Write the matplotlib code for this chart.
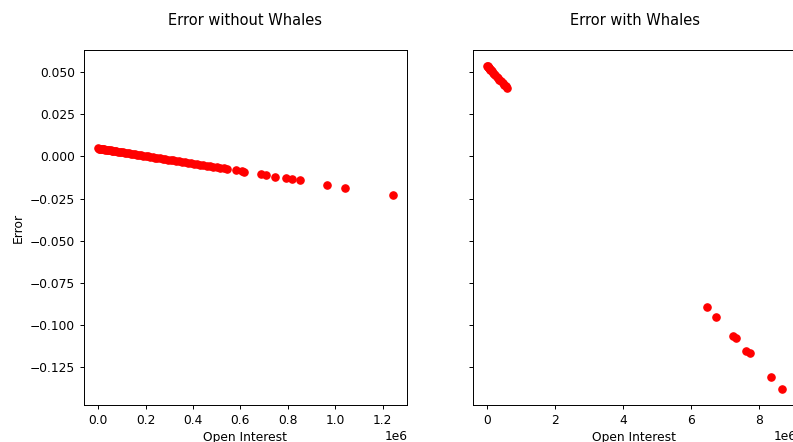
import matplotlib
matplotlib.use("Agg")
import matplotlib.pyplot as plt

# open interest (x1e6) / error without whales
oi_no_whales = [0.000, 0.004, 0.008, 0.012, 0.016, 0.020, 0.025, 0.030, 0.035, 0.040,
                0.046, 0.052, 0.058, 0.064, 0.070, 0.077, 0.084, 0.091, 0.098, 0.105,
                0.113, 0.121, 0.129, 0.137, 0.145, 0.154, 0.163, 0.172, 0.181, 0.190,
                0.200, 0.210, 0.220, 0.230, 0.240, 0.250, 0.261, 0.272, 0.283, 0.294,
                0.305, 0.317, 0.329, 0.341, 0.353, 0.365, 0.378, 0.391, 0.404, 0.417,
                0.430, 0.444, 0.458, 0.472, 0.486, 0.500, 0.515, 0.530, 0.545,
                0.583, 0.605, 0.617, 0.685, 0.710, 0.744, 0.791, 0.816, 0.850,
                0.964, 1.040, 1.243]
err_no_whales = [0.0048, 0.0047, 0.0046, 0.0045, 0.0044, 0.0044, 0.0042, 0.0041, 0.0040, 0.0039,
                 0.0038, 0.0036, 0.0035, 0.0034, 0.0032, 0.0031, 0.0029, 0.0028, 0.0026, 0.0024,
                 0.0023, 0.0021, 0.0019, 0.0017, 0.0016, 0.0014, 0.0011, 0.0009, 0.0007, 0.0005,
                 0.0003, 0.0001, -0.0001, -0.0004, -0.0006, -0.0008, -0.0010, -0.0013, -0.0015, -0.0018,
                 -0.0020, -0.0023, -0.0026, -0.0028, -0.0031, -0.0034, -0.0037, -0.0040, -0.0042, -0.0045,
                 -0.0048, -0.0051, -0.0055, -0.0058, -0.0061, -0.0064, -0.0067, -0.0071, -0.0074,
                 -0.0083, -0.0088, -0.0090, -0.0105, -0.0111, -0.0119, -0.0129, -0.0135, -0.0142,
                 -0.0168, -0.0185, -0.0230]

# open interest (x1e6) / error with whales
oi_whales = [0.00, 0.01, 0.02, 0.03, 0.04, 0.05, 0.07, 0.09, 0.11, 0.14, 0.17,
             0.20, 0.24, 0.28, 0.32, 0.36, 0.40, 0.45, 0.50, 0.54, 0.58,
             6.48, 6.73, 7.22, 7.32, 7.63, 7.73, 8.35, 8.67]
err_whales = [0.0537, 0.0535, 0.0533, 0.0530, 0.0528, 0.0526, 0.0522, 0.0517, 0.0513, 0.0506, 0.0499,
              0.0493, 0.0484, 0.0475, 0.0466, 0.0457, 0.0449, 0.0438, 0.0427, 0.0418, 0.0409,
              -0.0895, -0.0954, -0.1064, -0.1081, -0.1155, -0.1169, -0.1310, -0.1381]

oi_no_whales = [v * 1e6 for v in oi_no_whales]
oi_whales = [v * 1e6 for v in oi_whales]

W, H = 793, 442
DPI = 88
fig = plt.figure(figsize=(W / DPI, H / DPI), dpi=DPI)
ax1 = fig.add_axes([83.5 / W, 1 - 405 / H, 324 / W, 355 / H])
ax2 = fig.add_axes([472.5 / W, 1 - 405 / H, 324 / W, 355 / H], sharey=ax1)

ax1.scatter(oi_no_whales, err_no_whales, color="red")
ax1.set_title("Error without Whales", pad=20.5)
ax1.set_xlabel("Open Interest")
ax1.set_ylabel("Error")

ax2.scatter(oi_whales, err_whales, color="red")
ax2.set_title("Error with Whales", pad=20.5)
ax2.set_xlabel("Open Interest")
ax2.tick_params(labelleft=False)

fig.savefig("out.png", dpi=DPI)
